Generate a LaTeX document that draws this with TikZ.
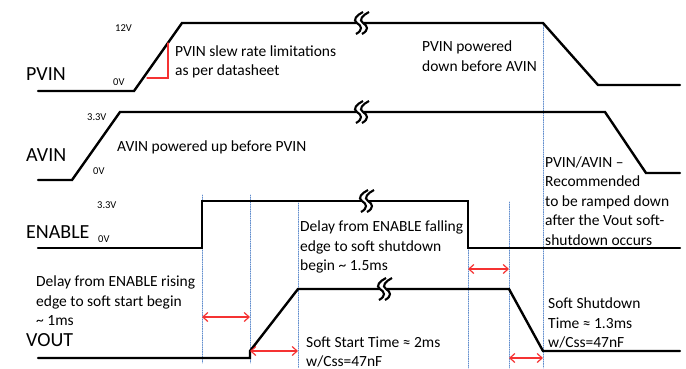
\documentclass[tikz,border=0pt]{standalone}
\usepackage{fontspec}
\setmainfont{Carlito}
\usepackage{pgfplots}
\pgfplotsset{compat=1.15}
\usetikzlibrary{arrows.meta,calc}
\usepackage{tkz-euclide}

\definecolor{dotblue}{RGB}{95,140,205}
\definecolor{arrred}{RGB}{245,50,50}

\tikzset{
  siglabel/.style={font=\fontsize{20}{24}\selectfont,anchor=west,inner sep=0pt},
  volt/.style={font=\fontsize{10.5}{12}\selectfont,anchor=west,inner sep=0pt},
  note/.style={font=\fontsize{15.5}{19.5}\selectfont,anchor=west,align=left,inner sep=0pt},
  guide/.style={color=dotblue,line width=0.8pt,dash pattern=on 1pt off 1.3pt},
  delay/.style={{Straight Barb[length=5pt,width=9pt]}-{Straight Barb[length=5pt,width=9pt]},color=arrred,line width=1.2pt}
}

\begin{document}
\begin{tikzpicture}[x=1pt,y=-1pt]
\useasboundingbox (0,0) rectangle (686,368);
\tkzSetUpLine[line width=2.4pt,color=black]

% waveform corners
\tkzDefPoints{38/91/P1,134/91/P2,182/23/P3,543/23/P4,598/85/P5,680/85/P6}
\tkzDefPoints{38/180/A1,72/180/A2,120/112/A3,605/112/A4,646/173/A5,680/173/A6}
\tkzDefPoints{38/248/E1,202/248/E2,202/201/E3,468/201/E4,468/248/E5,680/248/E6}
\tkzDefPoints{38/358/V1,250/358/V2,250/351/V3,298/289/V4,509/289/V5,543/351/V6,680/351/V7}
% guide lines
\tkzDefPoints{202/195/G1,202/363/H1,250/195/G2,250/363/H2,298/203/G3,298/368/H3}
\tkzDefPoints{468/248/G4,468/368/H4,509/202/G5,509/368/H5,543/23/G6,543/368/H6}
% delay arrows
\tkzDefPoints{202/317/R1,250/317/T1,250/351/R2,298/351/T2,468/269/R3,509/269/T3,509/358/R4,543/358/T4}
% slew mark
\tkzDefPoints{168/43/S1,168/78/S2,147/78/S3}

\tkzDrawSegments[guide](G1,H1 G2,H2 G3,H3 G4,H4 G5,H5 G6,H6)

\tkzDrawPolySeg(P1,P2,P3,P4,P5,P6)
\tkzDrawPolySeg(A1,A2,A3,A4,A5,A6)
\tkzDrawPolySeg(E1,E2,E3,E4,E5,E6)
\tkzDrawPolySeg(V1,V2,V3,V4,V5,V6,V7)

\tkzDrawPolySeg[line width=1.1pt,color=arrred](S1,S2,S3)

% breaks
\foreach \bx/\by in {362/23,362/112,367/201,385/289}{
  \begin{scope}[shift={(\bx,\by)}]
    \draw[white,line width=5pt] (4,-11) .. controls (-2,-8) and (-7,-3) .. (-2,0)
      .. controls (3,3) and (4,7) .. (-3,11);
    \foreach \dx in {-3,3}
      \draw[line width=2.1pt,xshift=\dx pt] (4,-11) .. controls (-2,-8) and (-7,-3) .. (-2,0)
        .. controls (3,3) and (4,7) .. (-3,11);
  \end{scope}
}

\tkzDrawSegments[delay](R1,T1 R2,T2 R3,T3 R4,T4)

% signal names
\node[siglabel] (pvin) at (26,74) {PVIN};
\node[siglabel] (avin) at (26,155) {AVIN};
\node[siglabel] (enable) at (26,232) {ENABLE};
\node[siglabel] (vout) at (26,340) {VOUT};

% levels
\node[volt] (pvhi) at (115,28) {12V};
\node[volt] (pvlo) at (113,82) {0V};
\node[volt] (avhi) at (87,117) {3.3V};
\node[volt] (avlo) at (93,171) {0V};
\node[volt] (enhi) at (97,205) {3.3V};
\node[volt] (enlo) at (98,239) {0V};

% notes
\node[note] (slew) at (175,62) {PVIN slew rate limitations\\as per datasheet};
\node[note] (avup) at (117,147) {AVIN powered up before PVIN};
\node[note] (pvdown) at (422,56) {PVIN powered\\down before AVIN};
\node[note] (ramp) at (545,201) {PVIN/AVIN –\\Recommended\\to be ramped down\\after the Vout soft-\\shutdown occurs};
\node[note] (rise) at (36,301) {Delay from ENABLE rising\\edge to soft start begin\\\textasciitilde{} 1ms};
\node[note] (fall) at (300,247) {Delay from ENABLE falling\\edge to soft shutdown\\begin \textasciitilde{} 1.5ms};
\node[note] (sstart) at (306,352) {Soft Start Time ≈ 2ms\\w/Css=47nF};
\node[note] (sshut) at (548,323) {Soft Shutdown\\Time ≈ 1.3ms\\w/Css=47nF};

\end{tikzpicture}
\end{document}
